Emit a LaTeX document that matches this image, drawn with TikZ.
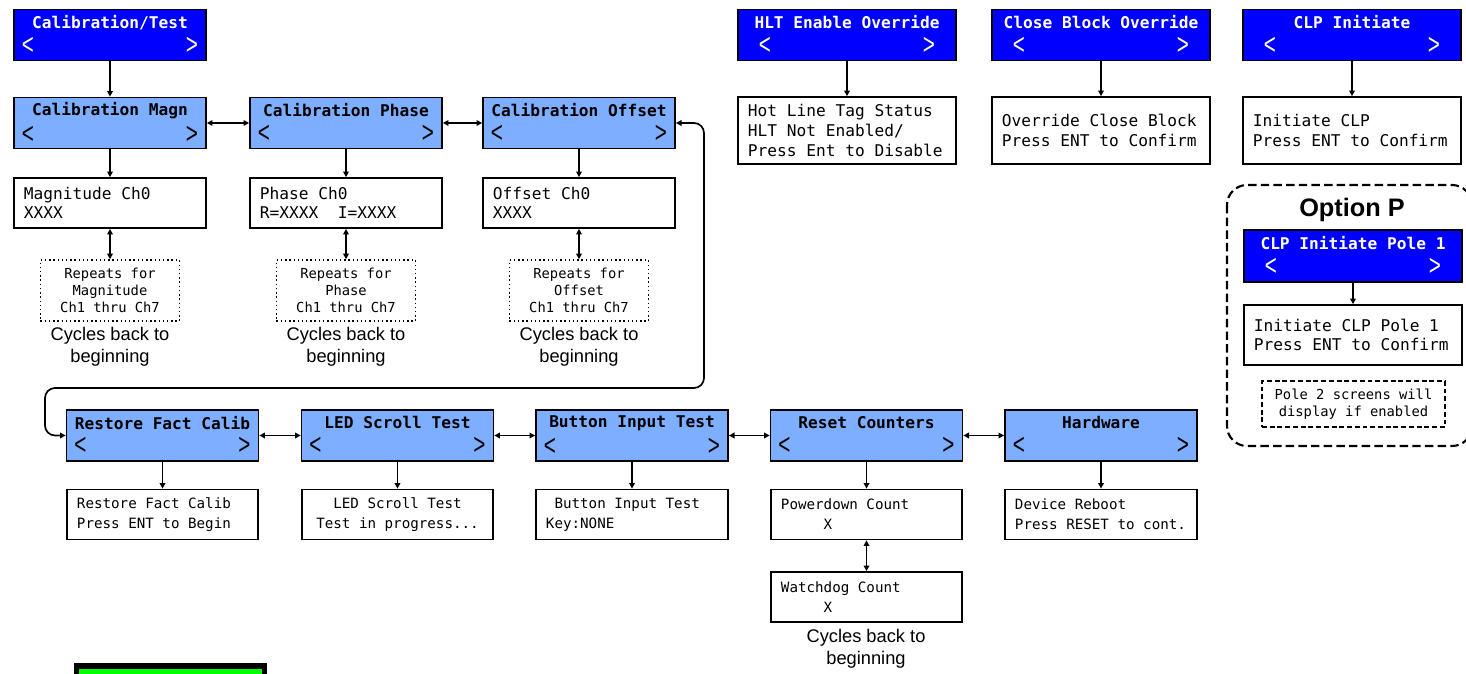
\documentclass[tikz,border=0pt]{standalone}
\usepackage{fontspec}
\setmainfont{Liberation Sans}
\setmonofont{DejaVu Sans Mono}
\usetikzlibrary{arrows.meta}

\definecolor{topblue}{RGB}{0,0,255}
\definecolor{menublue}{RGB}{126,174,255}
\definecolor{ledgreen}{RGB}{0,255,0}

\newcommand{\chev}[1]{\scalebox{0.7}[1]{\rmfamily\mdseries\fontsize{21}{21}\selectfont #1}}
\newcommand{\chevs}{\makebox[4.4cm]{\chev{<}\hfill\chev{>}}}

\begin{document}
\begin{tikzpicture}[x=0.025cm, y=-0.025cm,
  monospace/.style={execute at begin node={\spaceskip=0pt\xspaceskip=0pt}},
  topmenu/.style={monospace, draw=black, line width=1.2pt, fill=topblue, text=white, minimum width=4.8cm, minimum height=1.275cm, inner xsep=0.2cm, text width=4.4cm, align=center, font=\ttfamily\bfseries\fontsize{11.5}{14}\selectfont},
  submenu/.style={topmenu, fill=menublue, text=black},
  wide/.style={minimum width=5.45cm, text width=5.05cm},
  screen/.style={monospace, draw=black, line width=1.2pt, fill=white, minimum width=4.8cm, minimum height=1.25cm, inner xsep=0.25cm, text width=4.3cm, align=left, font=\ttfamily\fontsize{11.5}{13.9}\selectfont},
  screenlow/.style={screen, minimum width=4.775cm, text width=4.275cm, font=\ttfamily\fontsize{10.1}{14.2}\selectfont},
  repeats/.style={monospace, draw=black, line width=1pt, dotted, minimum width=3.475cm, minimum height=1.525cm, align=center, font=\ttfamily\fontsize{9.8}{12.1}\selectfont},
  cycles/.style={align=center, font=\fontsize{13}{15.6}\selectfont},
  conn/.style={line width=1.2pt, -{Triangle[length=4pt,width=4pt]}},
  both/.style={line width=1.2pt, {Triangle[length=4pt,width=4pt]}-{Triangle[length=4pt,width=4pt]}}]
\useasboundingbox (0,0) rectangle (1466,674);
\clip (0,0) rectangle (1466,674);
% calibration / test branch
\node[topmenu] (calt) at (110,35) {Calibration/Test\\[4pt]\chevs};
\node[submenu] (magn) at (110,123) {Calibration Magn\\[4pt]\chevs};
\node[submenu] (phase) at (346,123) {Calibration Phase\\[4pt]\chevs};
\node[submenu] (offset) at (579,123) {Calibration Offset\\[4pt]\chevs};
\node[screen] (magn0) at (110,203) {Magnitude Ch0\\XXXX};
\node[screen] (phase0) at (346,203) {Phase Ch0\\R=XXXX\ \ I=XXXX};
\node[screen] (offset0) at (579,203) {Offset Ch0\\XXXX};
\node[repeats] (magnrep) at (110,290.5) {Repeats for\\Magnitude\\Ch1 thru Ch7};
\node[repeats] (phaserep) at (346,290.5) {Repeats for\\Phase\\Ch1 thru Ch7};
\node[repeats] (offsetrep) at (579,290.5) {Repeats for\\Offset\\Ch1 thru Ch7};
\node[cycles] (magncyc) at (110,347) {Cycles back to\\beginning};
\node[cycles] (phasecyc) at (346,347) {Cycles back to\\beginning};
\node[cycles] (offsetcyc) at (579,347) {Cycles back to\\beginning};
% overrides
\node[topmenu, wide] (hlt) at (847,35) {HLT Enable Override\\[4pt]\chevs};
\node[topmenu, wide] (cbo) at (1101,35) {Close Block Override\\[4pt]\chevs};
\node[topmenu, wide] (clp) at (1352,35) {CLP Initiate\\[4pt]\chevs};
\node[screen, wide, minimum height=1.675cm, text width=4.95cm] (hltscr) at (847,130.5) {Hot Line Tag Status\\HLT Not Enabled/\\Press Ent to Disable};
\node[screen, wide, minimum height=1.675cm, text width=4.95cm] (cboscr) at (1101,130.5) {Override Close Block\\Press ENT to Confirm};
\node[screen, wide, minimum height=1.675cm, text width=4.95cm] (clpscr) at (1352,130.5) {Initiate CLP\\Press ENT to Confirm};
% option P
\draw[line width=1.5pt, dash pattern=on 6pt off 3pt, rounded corners=0.5cm] (1227,185) rectangle (1472,446);
\node[font=\bfseries\fontsize{18}{18}\selectfont] (optp) at (1352,210) {Option P};
\node[topmenu, wide, minimum height=1.3cm] (clp1) at (1353,256) {CLP Initiate Pole 1\\[4pt]\chevs};
\node[screen, wide, minimum height=1.5cm, text width=4.95cm] (clp1scr) at (1353,335) {Initiate CLP Pole 1\\Press ENT to Confirm};
\node[repeats, dotted=false, dash pattern=on 3.5pt off 2pt, minimum width=4.575cm, minimum height=1.15cm] (pole2) at (1353.5,404) {Pole 2 screens will\\display if enabled};
% test menus
\node[submenu, minimum width=4.775cm] (restore) at (162.5,435.5) {Restore Fact Calib\\[4pt]\chevs};
\node[submenu, minimum width=4.775cm] (led) at (397.5,435.5) {LED Scroll Test\\[4pt]\chevs};
\node[submenu] (button) at (632,435.5) {Button Input Test\\[4pt]\chevs};
\node[submenu, minimum width=4.775cm] (reset) at (866.5,435.5) {Reset Counters\\[4pt]\chevs};
\node[submenu] (hardware) at (1101,435.5) {Hardware\\[4pt]\chevs};
\node[screenlow] (restorescr) at (162.5,514.5) {Restore Fact Calib\\Press ENT to Begin};
\node[screenlow, align=center] (ledscr) at (397.5,514.5) {LED Scroll Test\\Test in progress...};
\node[screenlow, minimum width=4.8cm, text width=4.3cm] (buttonscr) at (632,514.5) {\hphantom{K}Button Input Test\\Key:NONE};
\node[screenlow] (powerdown) at (866.5,514.5) {Powerdown Count\\\hphantom{00000}X};
\node[screenlow] (watchdog) at (866.5,597) {Watchdog Count\\\hphantom{00000}X};
\node[screenlow, minimum width=4.8cm, text width=4.3cm] (reboot) at (1101,514.5) {Device Reboot\\Press RESET to cont.};
\node[cycles] (resetcyc) at (866,649) {Cycles back to\\beginning};
\node[draw=black, line width=3.6pt, fill=ledgreen, minimum width=4.7cm, minimum height=1cm] (green) at (170.5,686) {};
% connectors
\path[conn] (calt) edge (magn);
\path[conn] (magn) edge (magn0);
\path[conn] (phase) edge (phase0);
\path[conn] (offset) edge (offset0);
\path[both] (magn0) edge (magnrep);
\path[both] (phase0) edge (phaserep);
\path[both] (offset0) edge (offsetrep);
\path[both] (magn) edge (phase);
\path[both] (phase) edge (offset);
\path[conn] (hlt) edge (hltscr);
\path[conn] (cbo) edge (cboscr);
\path[conn] (clp) edge (clpscr);
\path[conn] (clp1) edge (clp1scr);
\coordinate (loopR) at (704,388);
\coordinate (loopL) at (45,388);
\draw[both, rounded corners=0.25cm] (offset.east) -| (loopR) -- (loopL) |- (restore.west);
\path[both] (restore) edge (led);
\path[both] (led) edge (button);
\path[both] (button) edge (reset);
\path[both] (reset) edge (hardware);
\path[conn] (restore) edge (restorescr);
\path[conn] (led) edge (ledscr);
\path[conn] (button) edge (buttonscr);
\path[conn] (reset) edge (powerdown);
\path[conn] (hardware) edge (reboot);
\path[both] (powerdown) edge (watchdog);
\end{tikzpicture}
\end{document}
